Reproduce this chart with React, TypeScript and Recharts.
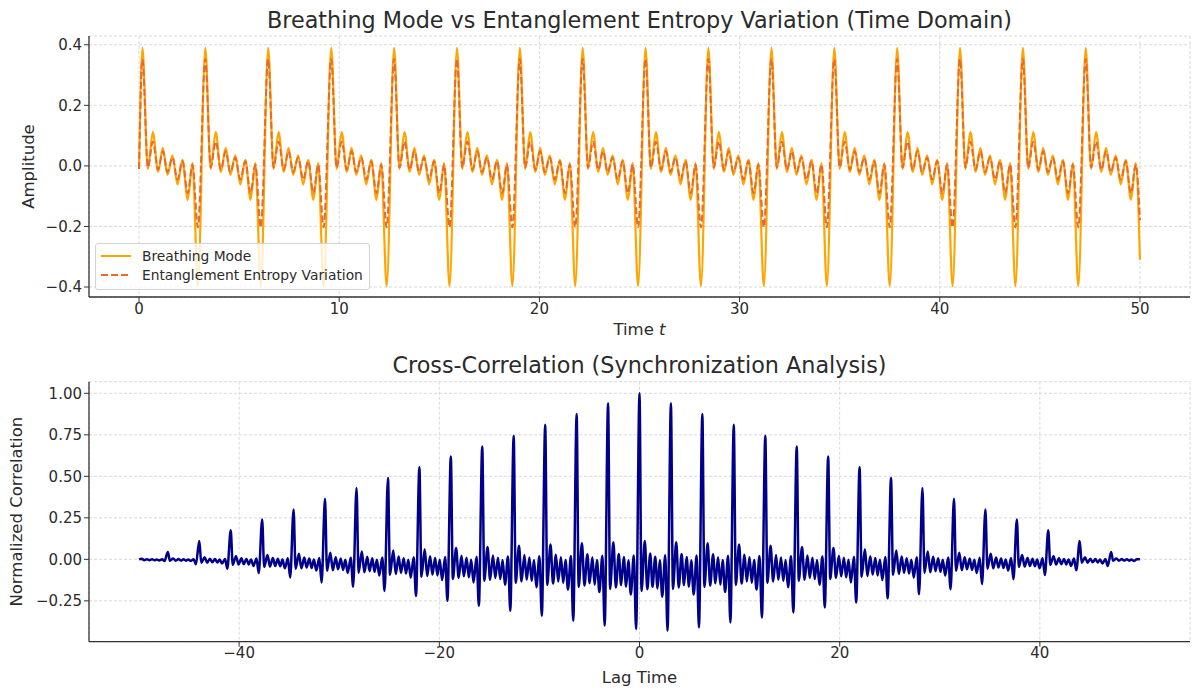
import { LineChart, Line, XAxis, YAxis, CartesianGrid } from "recharts";

const FONT = "'DejaVu Sans', sans-serif";
const INK = "#2b2b2b";
const GRID = "#cfcfcf";

// ---- top panel: time domain ----
const timeTicks = [0, 10, 20, 30, 40, 50];
const ampTicks = [-0.4, -0.2, 0, 0.2, 0.4];

// times of the main breathing peaks
const pulsePeaks = [
  0.17, 3.31, 6.45, 9.6, 12.74, 15.88, 19.02, 22.16, 25.3, 28.44, 31.59,
  34.73, 37.87, 41.01, 44.15, 47.29,
];
// one cycle, measured from its main peak (peak, ripples, deep dip)
const cycleOffsets = [0, 0.27, 0.52, 0.78, 1.02, 1.25, 1.5, 1.75, 2.0, 2.26, 2.5, 2.77];
const breathingCycle = [0.39, -0.01, 0.112, -0.02, 0.06, -0.03, 0.035, -0.061, 0.02, -0.112, 0.009, -0.397];
const entropyCycle = [0.353, -0.005, 0.08, -0.012, 0.048, -0.02, 0.027, -0.045, 0.015, -0.09, 0.004, -0.203];
const timeStart = { t: 0, breathing: -0.01, entropy: -0.01 };
const timeEnd = { t: 50, breathing: -0.31, entropy: -0.18 };

// ---- bottom panel: cross-correlation ----
const lagTicks = [-40, -20, 0, 20, 40];
const corrTicks = [-0.25, 0, 0.25, 0.5, 0.75, 1];

const lagPeaks = [
  -47.12, -43.98, -40.84, -37.7, -34.56, -31.42, -28.27, -25.13, -21.99,
  -18.85, -15.71, -12.57, -9.42, -6.28, -3.14, 0, 3.14, 6.28, 9.42, 12.57,
  15.71, 18.85, 21.99, 25.13, 28.27, 31.42, 34.56, 37.7, 40.84, 43.98, 47.12,
];
const peakHeights = [
  0.045, 0.11, 0.175, 0.24, 0.3, 0.365, 0.43, 0.49, 0.555, 0.62, 0.68, 0.745,
  0.81, 0.875, 0.94, 1.0, 0.94, 0.875, 0.81, 0.745, 0.68, 0.62, 0.555, 0.49,
  0.43, 0.365, 0.3, 0.24, 0.175, 0.11, 0.045,
];
// deep dip just before each peak
const dipDepths = [
  -0.01, -0.03, -0.056, -0.082, -0.11, -0.14, -0.165, -0.19, -0.22, -0.25,
  -0.28, -0.31, -0.34, -0.37, -0.4, -0.42, -0.43, -0.41, -0.38, -0.35, -0.32,
  -0.29, -0.26, -0.235, -0.21, -0.18, -0.15, -0.12, -0.095, -0.066, -0.04,
];
const dipLead = 0.34;
// ripples after a peak, as a fraction of that peak's height
const rippleOffsets = [0.2, 0.53, 0.78, 1.07, 1.3, 1.57, 1.8, 2.03, 2.27, 2.57];
const rippleShape = [-0.19, 0.11, -0.18, 0.035, -0.165, 0.015, -0.175, -0.005, -0.225, 0.025];
const leadHeight = 0.03;
const lagStart = { lag: -50, corr: 0 };
const lagEnd = { lag: 50, corr: 0 };

const timeData: { t: number; breathing: number; entropy: number }[] = [timeStart];
pulsePeaks.forEach((p) => {
  cycleOffsets.forEach((o, i) => {
    const t = +(p + o).toFixed(3);
    if (t > 0 && t < 50) {
      timeData.push({ t, breathing: breathingCycle[i], entropy: entropyCycle[i] });
    }
  });
});
timeData.push(timeEnd);

const corrData: { lag: number; corr: number }[] = [lagStart];
// lead-in ripples before the first visible peak
rippleOffsets.forEach((o, i) => {
  const lag = +(lagPeaks[0] - 3.14 + o).toFixed(3);
  if (lag > -50) corrData.push({ lag, corr: rippleShape[i] * leadHeight });
});
lagPeaks.forEach((p, k) => {
  corrData.push({ lag: +(p - dipLead).toFixed(3), corr: dipDepths[k] });
  corrData.push({ lag: p, corr: peakHeights[k] });
  rippleOffsets.forEach((o, i) => {
    const lag = +(p + o).toFixed(3);
    if (lag < 50) corrData.push({ lag, corr: rippleShape[i] * peakHeights[k] });
  });
});
corrData.push(lagEnd);

const minus = (s: string) => s.replace("-", "\u2212");

const tickStyle = { fontSize: 15, fill: INK, fontFamily: FONT };
const spine = { stroke: "#333", strokeWidth: 1.3 };

// eslint-disable-next-line @typescript-eslint/no-explicit-any
function TimeLabel({ viewBox }: any) {
  const { x, y, width, height } = viewBox;
  return (
    <text x={x + width / 2} y={y + height - 5} textAnchor="middle" fontSize={16.5} fill={INK} fontFamily={FONT}>
      Time <tspan fontStyle="italic">t</tspan>
    </text>
  );
}

// eslint-disable-next-line @typescript-eslint/no-explicit-any
function SideLabel({ viewBox, text, cx }: any) {
  const cy = viewBox.y + viewBox.height / 2;
  return (
    <text
      x={cx}
      y={cy}
      transform={`rotate(-90 ${cx} ${cy})`}
      textAnchor="middle"
      dominantBaseline="central"
      fontSize={16.5}
      fill={INK}
      fontFamily={FONT}
    >
      {text}
    </text>
  );
}

// eslint-disable-next-line @typescript-eslint/no-explicit-any
function BottomLabel({ viewBox, text }: any) {
  const { x, y, width, height } = viewBox;
  return (
    <text x={x + width / 2} y={y + height - 13} textAnchor="middle" fontSize={16.5} fill={INK} fontFamily={FONT}>
      {text}
    </text>
  );
}

function TimeLegend() {
  return (
    <div
      style={{
        position: "absolute",
        left: 95,
        top: 243,
        width: 275,
        height: 47,
        boxSizing: "border-box",
        border: "1px solid #d4d4d4",
        borderRadius: 3,
        background: "rgba(255,255,255,0.8)",
        fontFamily: FONT,
        fontSize: 13.8,
        color: INK,
      }}
    >
      {[
        { name: "Breathing Mode", color: "#FFA500", dash: undefined, top: 2 },
        { name: "Entanglement Entropy Variation", color: "#E8692A", dash: "7 3", top: 21 },
      ].map((e) => (
        <div key={e.name} style={{ position: "absolute", left: 4, top: e.top, height: 19, display: "flex", alignItems: "center" }}>
          <svg width={32} height={10}>
            <line x1={1} y1={5} x2={31} y2={5} stroke={e.color} strokeWidth={2} strokeDasharray={e.dash} />
          </svg>
          <span style={{ marginLeft: 10, whiteSpace: "nowrap" }}>{e.name}</span>
        </div>
      ))}
    </div>
  );
}

export default function App() {
  return (
    <div style={{ position: "absolute", left: 0, top: 0, width: 1200, height: 696, background: "#fff" }}>
      <LineChart
        width={1200}
        height={340}
        data={timeData}
        margin={{ top: 36, right: 10, left: 0, bottom: 0 }}
        style={{ position: "absolute", left: 0, top: 0 }}
      >
        <CartesianGrid stroke={GRID} strokeDasharray="3 2" strokeWidth={0.8} />
        <XAxis
          dataKey="t"
          type="number"
          domain={[-2.5, 52.5]}
          ticks={timeTicks}
          allowDataOverflow
          height={43}
          tick={tickStyle}
          tickSize={5}
          tickMargin={1}
          axisLine={spine}
          tickLine={{ stroke: "#333" }}
          label={<TimeLabel />}
        />
        <YAxis
          type="number"
          domain={[-0.433, 0.429]}
          ticks={ampTicks}
          allowDataOverflow
          width={89}
          tick={tickStyle}
          tickSize={5}
          tickMargin={2}
          tickFormatter={(v: number) => minus(v.toFixed(1))}
          axisLine={spine}
          tickLine={{ stroke: "#333" }}
          label={<SideLabel text="Amplitude" cx={28} />}
        />
        <Line
          type="monotone"
          dataKey="breathing"
          stroke="#FFA500"
          strokeWidth={2.2}
          dot={false}
          isAnimationActive={false}
          name="Breathing Mode"
        />
        <Line
          type="monotone"
          dataKey="entropy"
          stroke="#E8692A"
          strokeWidth={2}
          strokeDasharray="7 3"
          dot={false}
          isAnimationActive={false}
          name="Entanglement Entropy Variation"
        />
      </LineChart>
      <TimeLegend />

      <LineChart
        width={1200}
        height={356}
        data={corrData}
        margin={{ top: 41.7, right: 10, left: 0, bottom: 0 }}
        style={{ position: "absolute", left: 0, top: 340 }}
      >
        <CartesianGrid stroke={GRID} strokeDasharray="3 2" strokeWidth={0.8} />
        <XAxis
          dataKey="lag"
          type="number"
          domain={[-55, 55]}
          ticks={lagTicks}
          allowDataOverflow
          height={54.3}
          tick={tickStyle}
          tickSize={5}
          tickMargin={1}
          tickFormatter={(v: number) => minus(String(v))}
          axisLine={spine}
          tickLine={{ stroke: "#333" }}
          label={<BottomLabel text="Lag Time" />}
        />
        <YAxis
          type="number"
          domain={[-0.496, 1.07]}
          ticks={corrTicks}
          allowDataOverflow
          width={89}
          tick={tickStyle}
          tickSize={5}
          tickMargin={2}
          tickFormatter={(v: number) => minus(v.toFixed(2))}
          axisLine={spine}
          tickLine={{ stroke: "#333" }}
          label={<SideLabel text="Normalized Correlation" cx={17} />}
        />
        <Line
          type="monotone"
          dataKey="corr"
          stroke="#00008B"
          strokeWidth={2.5}
          dot={false}
          isAnimationActive={false}
          name="Cross-Correlation"
        />
      </LineChart>

      <svg width={1200} height={696} style={{ position: "absolute", left: 0, top: 0, pointerEvents: "none" }}>
        <text x={639.5} y={27.6} textAnchor="middle" fontSize={22.3} fill={INK} fontFamily={FONT}>
          Breathing Mode vs Entanglement Entropy Variation (Time Domain)
        </text>
        <text x={639.5} y={373.3} textAnchor="middle" fontSize={22.3} fill={INK} fontFamily={FONT}>
          Cross-Correlation (Synchronization Analysis)
        </text>
      </svg>
    </div>
  );
}
